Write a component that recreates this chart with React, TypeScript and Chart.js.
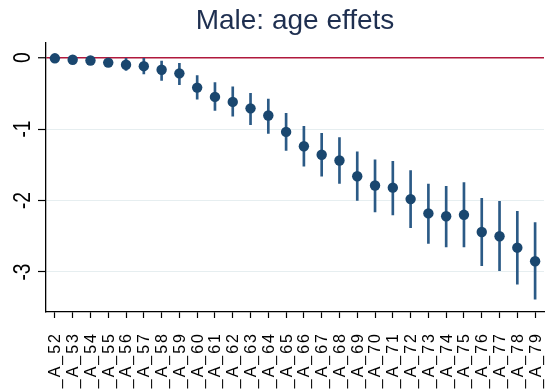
import React, { useEffect, useRef } from "react";
import { Chart, registerables } from "chart.js";

Chart.register(...registerables);

const ages = [52, 53, 54, 55, 56, 57, 58, 59, 60, 61, 62, 63, 64, 65, 66, 67, 68, 69, 70, 71, 72, 73, 74, 75, 76, 77, 78, 79];
const categories = ages.map((a) => "_A_" + a);
const coef = [-0.01, -0.03, -0.04, -0.07, -0.10, -0.12, -0.17, -0.22, -0.42, -0.55, -0.62, -0.71, -0.81, -1.04, -1.24, -1.36, -1.44, -1.66, -1.79, -1.82, -1.98, -2.18, -2.22, -2.20, -2.44, -2.50, -2.66, -2.85];
const ciLow = [-0.02, -0.05, -0.07, -0.12, -0.18, -0.23, -0.32, -0.38, -0.58, -0.74, -0.82, -0.94, -1.06, -1.30, -1.52, -1.66, -1.76, -2.00, -2.16, -2.20, -2.38, -2.60, -2.65, -2.65, -2.91, -2.98, -3.17, -3.38];
const ciHigh = [0.0, -0.01, -0.01, -0.02, -0.01, -0.01, -0.05, -0.08, -0.25, -0.35, -0.41, -0.50, -0.58, -0.78, -0.96, -1.06, -1.12, -1.32, -1.43, -1.45, -1.58, -1.77, -1.80, -1.75, -1.97, -2.01, -2.15, -2.31];
const yTicks = [0, -1, -2, -3];
const yTickLabels = ["0", "-1", "-2", "-3"];

const NAVY = "#1a476f";
const FONT = "'Liberation Sans', Arial, sans-serif";

const labelPlugin = {
  id: "axisLabels",
  afterDraw(chart: any) {
    const ctx = chart.ctx;
    const ys = chart.scales.y;
    const xs = chart.scales.x;
    ctx.save();
    ctx.fillStyle = "#000";
    ctx.font = "24px " + FONT;
    ctx.textAlign = "center";
    ctx.textBaseline = "middle";
    yTicks.forEach((v, i) => {
      const y = ys.getPixelForValue(v);
      ctx.save();
      ctx.translate(23, y);
      ctx.rotate(-Math.PI / 2);
      ctx.scale(0.8, 1);
      ctx.fillText(yTickLabels[i], 0, 0);
      ctx.restore();
    });
    ctx.font = "16px " + FONT;
    ctx.textAlign = "right";
    ctx.textBaseline = "middle";
    try {
      (ctx as any).letterSpacing = "2px";
    } catch (e) {}
    const top = xs.top + 20;
    categories.forEach((lab, i) => {
      const x = xs.getPixelForValue(i);
      ctx.save();
      ctx.translate(x + 1, top);
      ctx.rotate(-Math.PI / 2);
      ctx.fillText(lab, 0, 0);
      ctx.restore();
    });
    ctx.restore();
  },
};

export default function App() {
  const ref = useRef<HTMLCanvasElement | null>(null);
  useEffect(() => {
    if (!ref.current) return;
    const chart = new Chart(ref.current, {
      type: "bar",
      data: {
        labels: categories,
        datasets: [
          {
            type: "line",
            data: coef,
            showLine: false,
            pointRadius: 5.2,
            pointHoverRadius: 5.2,
            pointBackgroundColor: NAVY,
            pointBorderWidth: 0,
            borderColor: NAVY,
            order: 0,
          } as any,
          {
            type: "bar",
            data: ciLow.map((l, i) => [l, ciHigh[i]]),
            backgroundColor: "#2b5a86",
            borderWidth: 0,
            barThickness: 2,
            order: 1,
          } as any,
        ],
      },
      options: {
        animation: false,
        responsive: true,
        maintainAspectRatio: false,
        layout: { autoPadding: false, padding: { left: 0, right: 1, top: 0, bottom: 0 } },
        plugins: {
          legend: { display: false },
          tooltip: { enabled: false },
          title: {
            display: true,
            text: "Male: age effets",
            fullSize: false,
            color: "#1e2f50",
            font: { size: 28, family: FONT, weight: "normal" },
            padding: { top: 4, bottom: 5 },
          },
        },
        scales: {
          x: {
            offset: true,
            grid: { display: true, drawOnChartArea: false, offset: false, tickLength: 6, color: "#000", tickWidth: 1.2 },
            border: { display: true, color: "#000", width: 1.3 },
            ticks: { display: false, autoSkip: false },
            afterFit: (s: any) => {
              s.height = 79;
              s.paddingLeft = 0;
              s.paddingRight = 0;
            },
          },
          y: {
            min: -3.56,
            max: 0.21,
            afterBuildTicks: (s: any) => {
              s.ticks = yTicks.map((v) => ({ value: v }));
            },
            grid: {
              color: (c: any) => (c.tick && c.tick.value === 0 ? "#b0193c" : "#e6eef0"),
              lineWidth: (c: any) => (c.tick && c.tick.value === 0 ? 1.5 : 1),
              tickColor: "#000",
              tickLength: 8,
              tickWidth: 1.2,
            },
            border: { display: true, color: "#000", width: 1.3 },
            ticks: { display: false },
            afterFit: (s: any) => {
              s.width = 46;
              s.paddingTop = 0;
              s.paddingBottom = 0;
            },
          },
        },
      },
      plugins: [labelPlugin],
    });
    return () => chart.destroy();
  }, []);
  return (
    <div style={{ position: "absolute", left: 0, top: 0, width: 545, height: 391 }}>
      <canvas ref={ref} />
    </div>
  );
}
